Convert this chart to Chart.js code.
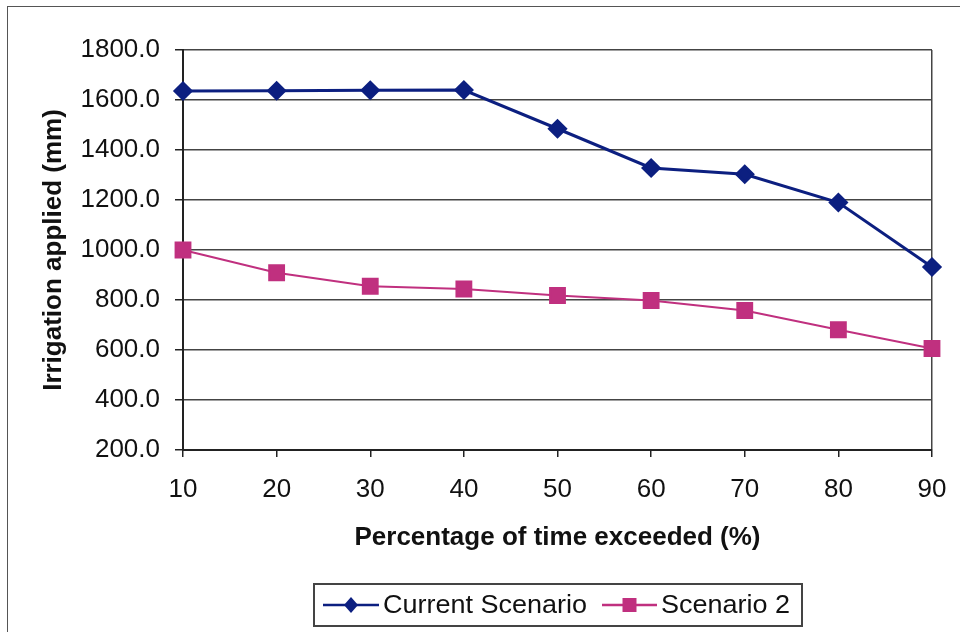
<!DOCTYPE html>
<html>
<head>
<meta charset="utf-8">
<script src="https://cdn.jsdelivr.net/npm/chart.js@4"></script>
<style>
  html, body { margin: 0; padding: 0; background: #fff; }
  #wrap { position: relative; width: 960px; height: 632px; overflow: hidden; }
  #frame { position: absolute; left: 7px; top: 6px; width: 1200px; height: 900px; border: 1.5px solid #555; }
  canvas { position: absolute; left: 0; top: 0; }
</style>
</head>
<body>
<div id="wrap">
  <div id="frame"></div>
  <canvas id="chart" width="960" height="632"></canvas>
</div>
<script>
// data
const percentExceeded = ['10', '20', '30', '40', '50', '60', '70', '80', '90'];
const currentScenario = [1636, 1637, 1639, 1640, 1485, 1328, 1303, 1190, 932];
const scenario2 = [1000, 909, 855, 844, 818, 798, 758, 681, 606];
const yTicks = { min: 200, max: 1800, step: 200 };

const navy = '#0c1f80';
const pink = '#c0307f';
const font = "'Liberation Sans', Arial, sans-serif";

// legend drawn by hand: line with marker in the middle, boxed
const boxedLegend = {
  id: 'boxedLegend',
  afterDraw(chart) {
    const ctx = chart.ctx;
    ctx.save();
    ctx.strokeStyle = '#444';
    ctx.lineWidth = 2;
    ctx.strokeRect(314, 584, 488, 42);

    const cy = 605;
    const items = [
      { label: 'Current Scenario', color: navy, shape: 'diamond', x0: 323, x1: 379, tx: 383 },
      { label: 'Scenario 2', color: pink, shape: 'square', x0: 602, x1: 657, tx: 661 }
    ];
    items.forEach(it => {
      ctx.strokeStyle = it.color;
      ctx.lineWidth = 2.5;
      ctx.beginPath();
      ctx.moveTo(it.x0, cy);
      ctx.lineTo(it.x1, cy);
      ctx.stroke();
      const mx = (it.x0 + it.x1) / 2;
      ctx.fillStyle = it.color;
      ctx.beginPath();
      if (it.shape === 'diamond') {
        ctx.moveTo(mx, cy - 8);
        ctx.lineTo(mx + 7, cy);
        ctx.lineTo(mx, cy + 8);
        ctx.lineTo(mx - 7, cy);
        ctx.closePath();
      } else {
        ctx.rect(mx - 7, cy - 7, 14, 14);
      }
      ctx.fill();

      ctx.fillStyle = '#111';
      ctx.font = '25px ' + font;
      ctx.textBaseline = 'middle';
      ctx.textAlign = 'left';
      ctx.save();
      ctx.translate(it.tx, cy + 1);
      ctx.scale(1.08, 1);
      ctx.fillText(it.label, 0, 0);
      ctx.restore();
    });
    ctx.restore();
  }
};

new Chart(document.getElementById('chart'), {
  type: 'line',
  data: {
    labels: percentExceeded,
    datasets: [
      {
        label: 'Current Scenario',
        data: currentScenario,
        borderColor: navy,
        backgroundColor: navy,
        borderWidth: 3,
        pointStyle: 'rectRot',
        pointRadius: 8,
        pointHoverRadius: 8,
        tension: 0
      },
      {
        label: 'Scenario 2',
        data: scenario2,
        borderColor: pink,
        backgroundColor: pink,
        borderWidth: 2,
        pointStyle: 'rect',
        pointRadius: 10.5,
        pointHoverRadius: 10.5,
        tension: 0
      }
    ]
  },
  options: {
    responsive: false,
    animation: false,
    layout: { padding: { left: 0, right: 28, top: 50, bottom: 72 } },
    plugins: {
      legend: { display: false },
      tooltip: { enabled: false }
    },
    scales: {
      x: {
        offset: false,
        afterFit: s => { s.height = 110; s.paddingRight = 0; },
        border: { color: '#222', width: 2 },
        grid: {
          drawOnChartArea: true,
          color: c => c.index === percentExceeded.length - 1 ? '#444' : 'rgba(0,0,0,0)',
          tickColor: '#222',
          tickLength: 7,
          lineWidth: 1.5
        },
        ticks: {
          color: '#111',
          font: { family: font, size: 26 },
          padding: 17,
          maxRotation: 0
        },
        title: {
          display: true,
          text: 'Percentage of time exceeded (%)',
          color: '#111',
          font: { family: font, size: 26, weight: 'bold' },
          padding: { top: 0, bottom: 7 }
        }
      },
      y: {
        min: yTicks.min,
        max: yTicks.max,
        afterFit: s => { s.width = 183; },
        border: { color: '#222', width: 2 },
        grid: {
          color: '#444',
          tickColor: '#222',
          tickLength: 8,
          lineWidth: 1.5
        },
        ticks: {
          stepSize: yTicks.step,
          color: '#111',
          font: { family: font, size: 26 },
          padding: 15,
          callback: v => v.toFixed(1)
        },
        title: {
          display: true,
          text: 'Irrigation applied (mm)',
          color: '#111',
          font: { family: font, size: 26, weight: 'bold' },
          padding: { top: 38, bottom: 0 }
        }
      }
    }
  },
  plugins: [boxedLegend]
});
</script>
</body>
</html>
